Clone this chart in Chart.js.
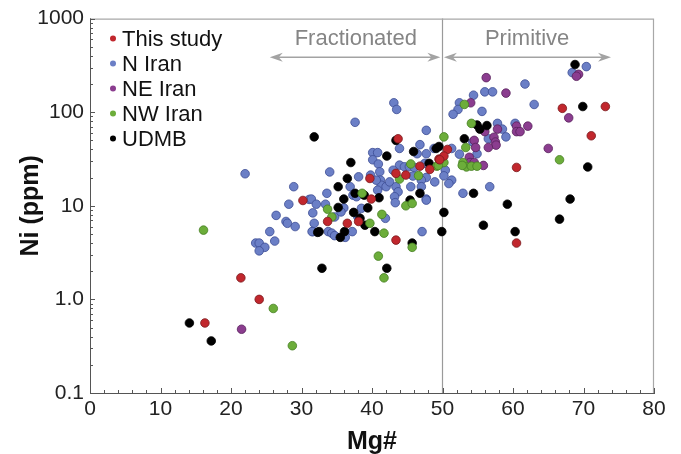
<!DOCTYPE html>
<html>
<head>
<meta charset="utf-8">
<script src="https://cdn.jsdelivr.net/npm/chart.js@4.4.1/dist/chart.umd.min.js"></script>
<style>
html,body{margin:0;padding:0;background:#fff;}
</style>
</head>
<body>
<canvas id="grafico" width="681" height="454"></canvas>
<script>
//assi
var xTicks = [0,10,20,30,40,50,60,70,80];
var yTicks = [0.1,1,10,100,1000];

//This study
var redMg = [16.3,21.4,24.0,30.2,43.7,39.7,43.4,44.8,46.8,48.2,49.5,39.9,33.7,38.1,36.5,43.4,67.0,50.7,50.2,49.6,60.5,73.1,71.1,60.5];
var redNi = [0.56,1.7,1.0,11.4,52,19.6,22.2,21.3,26.5,24.5,31.5,11.8,6.8,6.8,6.5,4.3,110,40,34,31,25.7,115,56,4.0];

//N Iran
var blueMg = [23.5,24.0,24.8,24.0,26.2,27.8,28.0,29.1,31.8,31.6,25.5,22.0,28.9,31.1,28.2,26.4,
  43.1,43.5,37.6,47.7,46.8,43.9,46.4,47.7,48.8,40.1,40.8,40.1,40.9,34.0,38.1,39.8,41.1,41.2,41.3,42.0,42.5,
  43.9,44.6,43.0,45.3,46.0,47.5,48.9,47.7,45.8,47.0,40.6,43.4,43.7,43.2,40.8,45.5,47.0,47.7,37.3,36.9,37.8,
  33.6,31.4,32.1,33.4,31.6,34.7,36.0,35.6,38.5,38.0,41.9,
  31.5,33.8,34.3,34.7,36.2,37.2,47.1,43.3,47.7,
  61.7,56.0,57.1,54.4,52.4,52.2,51.5,55.6,63.0,57.8,58.5,60.3,59.0,56.5,54.3,54.9,52.4,56.7,52.9,50.4,50.2,51.3,50.9,51.3,
  70.4,68.4];
var blueNi = [4.0,4.0,3.6,3.3,4.2,6.8,6.5,6.0,6.5,5.3,5.3,22,16,11.7,10.4,7.9,
  126,107,78,64,45,41,36,36,41,37,37,31,28,23,20.4,21.3,23.1,18.8,16.6,16,18,
  27.2,26.1,24,26.1,25.7,28.4,18,20.1,20.8,18.8,18.8,16,14.1,12.5,14.7,16,16,11.8,13,16,12.5,
  13.6,11.8,10.4,10.4,8.4,7.6,9.5,8.6,9.4,7.6,7.35,
  5.3,5.3,5.1,4.8,4.6,5.3,5.3,10.8,11.5,
  200,165,165,152,126,107,95,102,121,76,66,76,54.5,52,48,36,35.6,16,13.6,24,20.9,18.8,17.3,41,
  307,265];

//NE Iran
var purpleMg = [21.5,56.2,59.0,54.0,56.0,57.8,60.5,62.1,60.5,61.0,57.3,57.5,57.6,54.5,56.5,54.7,53.8,53.9,54.5,55.8,65.0,69.3,69.0,67.9];
var purpleNi = [0.48,234,160,126,62,66,71,71,62,62,54,48,44.5,50,42,42,33,29,29,27,41,254,242,87];

//NW Iran
var greenMg = [16.1,26.0,28.7,43.9,45.5,46.6,49.2,44.8,45.7,38.6,33.7,34.3,39.7,41.4,41.7,45.7,40.9,41.7,53.1,54.1,53.3,52.9,53.4,54.1,54.9,52.8,66.6,50.2,50.2,49.4];
var greenNi = [5.5,0.8,0.32,19.3,28,21,26.5,10.0,10.6,13.6,9.2,7.6,6.5,8.1,5.1,3.6,2.9,1.7,121,76,42,29,26,26.5,26.5,27,31,54.5,29,27];

//UDMB
var blackMg = [14.1,17.2,32.3,31.8,43.4,45.9,49.1,49.5,42.1,37.0,36.5,35.2,48.1,46.8,45.4,41.0,38.9,37.6,36.0,35.2,37.4,39.4,38.3,
  32.5,35.5,36.1,39.0,40.4,45.7,50.2,49.9,32.9,42.1,54.9,55.3,56.3,53.1,54.4,68.8,69.9,70.6,68.1,66.6,59.2,55.8,60.3];
var blackNi = [0.56,0.36,5.2,54.5,50,38,41,43,34,29,19.6,16,28.4,13.6,11.5,12.2,13,13.6,11.8,9.6,8.5,9.5,7.35,
  5.3,4.6,5.3,6.2,5.3,4.0,8.5,5.3,2.15,2.15,73,66,72,52,13.6,323,115,26,11.8,7.2,10.4,6.2,5.3];

var FONT = '"Liberation Sans", Arial, sans-serif';

function pts(mg, ni){
  return mg.map(function(m, i){ return {x: m, y: ni[i]}; });
}

function serie(nome, mg, ni, fill, border, ord){
  return {
    label: nome,
    data: pts(mg, ni),
    backgroundColor: fill,
    borderColor: border,
    borderWidth: 0.8,
    pointRadius: 4.3,
    order: ord
  };
}

var datasets = [
  serie('This study', redMg, redNi, '#c1272d', '#7a1a1e', 1),
  serie('N Iran', blueMg, blueNi, '#6b7fc6', '#3c4d94', 5),
  serie('NE Iran', purpleMg, purpleNi, '#8b3d8f', '#58215c', 4),
  serie('NW Iran', greenMg, greenNi, '#6cad3a', '#457f22', 2),
  serie('UDMB', blackMg, blackNi, '#000000', '#000000', 3)
];

//linea a Mg#=50, frecce e testi
var divisorio = {
  id: 'divisorio',
  beforeDatasetsDraw: function(chart){
    var ctx = chart.ctx, a = chart.chartArea;
    var xs = chart.scales.x, ys = chart.scales.y;
    var x50 = xs.getPixelForValue(50);
    ctx.save();
    ctx.strokeStyle = '#9a9a9a';
    ctx.lineWidth = 1.2;
    ctx.beginPath();
    ctx.moveTo(x50, a.top);
    ctx.lineTo(x50, a.bottom);
    ctx.stroke();

    var yA = ys.getPixelForValue(386);
    function freccia(x1, x2){
      ctx.strokeStyle = '#a3a3a3';
      ctx.fillStyle = '#a3a3a3';
      ctx.lineWidth = 1.6;
      ctx.beginPath();
      ctx.moveTo(x1 + 6, yA);
      ctx.lineTo(x2 - 6, yA);
      ctx.stroke();
      [[x1, 1], [x2, -1]].forEach(function(p){
        ctx.beginPath();
        ctx.moveTo(p[0], yA);
        ctx.lineTo(p[0] + p[1] * 13, yA - 4.5);
        ctx.lineTo(p[0] + p[1] * 9, yA);
        ctx.lineTo(p[0] + p[1] * 13, yA + 4.5);
        ctx.closePath();
        ctx.fill();
      });
    }
    freccia(xs.getPixelForValue(25.5), xs.getPixelForValue(49.7));
    freccia(xs.getPixelForValue(50.2), xs.getPixelForValue(73.9));

    ctx.fillStyle = '#858585';
    ctx.font = '22px ' + FONT;
    ctx.textAlign = 'center';
    ctx.textBaseline = 'middle';
    var yT = ys.getPixelForValue(600);
    ctx.fillText('Fractionated', xs.getPixelForValue(37.7), yT);
    ctx.fillText('Primitive', xs.getPixelForValue(62), yT);
    ctx.restore();
  }
};

//cornice, tacche interne e legenda
var cornice = {
  id: 'cornice',
  afterDraw: function(chart){
    var ctx = chart.ctx, a = chart.chartArea;
    var xs = chart.scales.x, ys = chart.scales.y;
    ctx.save();
    ctx.strokeStyle = '#a8a8a8';
    ctx.lineWidth = 1.2;
    ctx.beginPath();
    ctx.moveTo(a.left, a.top + 0.5);
    ctx.lineTo(a.right - 0.5, a.top + 0.5);
    ctx.lineTo(a.right - 0.5, a.bottom);
    ctx.stroke();

    ctx.strokeStyle = '#555';
    ctx.lineWidth = 1;
    ctx.beginPath();
    for(var v = 0; v <= 80; v += 2){
      var px = Math.round(xs.getPixelForValue(v)) + 0.5;
      var l = (v % 10 === 0) ? 5 : 3;
      ctx.moveTo(px, a.bottom);
      ctx.lineTo(px, a.bottom - l);
    }
    for(var e = -1; e < 3; e++){
      for(var m = 1; m <= 9; m++){
        var val = m * Math.pow(10, e);
        var py = Math.round(ys.getPixelForValue(val)) + 0.5;
        var lm = (m === 1) ? 5 : 3;
        ctx.moveTo(a.left, py);
        ctx.lineTo(a.left + lm, py);
      }
    }
    var pTop = Math.round(ys.getPixelForValue(1000)) + 0.5;
    ctx.moveTo(a.left, pTop);
    ctx.lineTo(a.left + 5, pTop);
    ctx.stroke();

    //legenda
    ctx.font = '22px ' + FONT;
    ctx.textBaseline = 'middle';
    ctx.textAlign = 'left';
    chart.data.datasets.forEach(function(d, i){
      var yy = a.top + 20 + i * 25;
      ctx.beginPath();
      ctx.arc(a.left + 23, yy, 3, 0, Math.PI * 2);
      ctx.fillStyle = d.backgroundColor;
      ctx.fill();
      ctx.fillStyle = '#111';
      ctx.fillText(d.label, a.left + 32, yy + 1);
    });
    ctx.restore();
  }
};

new Chart(document.getElementById('grafico'), {
  type: 'scatter',
  data: { datasets: datasets },
  options: {
    responsive: false,
    animation: false,
    layout: { padding: { top: 18, right: 27, left: 0, bottom: 0 } },
    plugins: {
      legend: { display: false },
      tooltip: { enabled: false }
    },
    scales: {
      x: {
        type: 'linear',
        min: 0,
        max: 80,
        afterBuildTicks: function(s){ s.ticks = xTicks.map(function(v){ return {value: v}; }); },
        afterFit: function(s){ s.height = 61; },
        grid: { display: false, drawTicks: false },
        border: { display: true, color: '#555', width: 1 },
        ticks: { color: '#222', font: { family: FONT, size: 21 }, padding: 4, maxRotation: 0 },
        title: { display: true, text: 'Mg#', color: '#111', font: { family: FONT, size: 25, weight: 'bold' }, padding: { top: 0, bottom: -3 } }
      },
      y: {
        type: 'logarithmic',
        min: 0.1,
        max: 1000,
        afterBuildTicks: function(s){ s.ticks = yTicks.map(function(v){ return {value: v}; }); },
        afterFit: function(s){ s.width = 90; },
        grid: { display: false, drawTicks: false },
        border: { display: true, color: '#555', width: 1 },
        ticks: {
          color: '#222',
          font: { family: FONT, size: 21 },
          padding: 6,
          callback: function(v){ return v === 1 ? '1.0' : String(v); }
        },
        title: { display: true, text: 'Ni (ppm)', color: '#111', font: { family: FONT, size: 25, weight: 'bold' }, padding: { top: 16, bottom: 0 } }
      }
    }
  },
  plugins: [divisorio, cornice]
});
</script>
</body>
</html>
